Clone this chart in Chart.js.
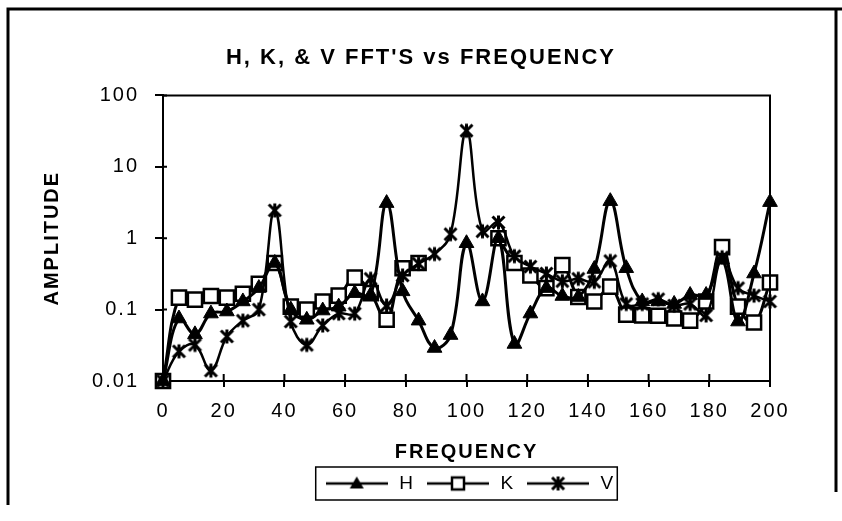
<!DOCTYPE html>
<html>
<head>
<meta charset="utf-8">
<script src="https://cdn.jsdelivr.net/npm/chart.js@4.4.1/dist/chart.umd.min.js"></script>
<style>
  html, body { margin: 0; padding: 0; background: #fff; }
  canvas { display: block; }
</style>
</head>
<body>
<canvas id="fftChart" width="842" height="521"></canvas>
<script>
// --- Data ---
const freqHz = [0, 5.26, 10.53, 15.79, 21.05, 26.32, 31.58, 36.84, 42.11, 47.37,
  52.63, 57.89, 63.16, 68.42, 73.68, 78.95, 84.21, 89.47, 94.74, 100,
  105.26, 110.53, 115.79, 121.05, 126.32, 131.58, 136.84, 142.11, 147.37, 152.63,
  157.89, 163.16, 168.42, 173.68, 178.95, 184.21, 189.47, 194.74, 200];

const hAmp = [0.01, 0.075, 0.045, 0.088, 0.094, 0.13, 0.2, 0.45, 0.1, 0.072,
  0.097, 0.11, 0.17, 0.16, 3.1, 0.18, 0.07, 0.029, 0.044, 0.85,
  0.13, 1.0, 0.033, 0.088, 0.2, 0.155, 0.15, 0.37, 3.3, 0.38,
  0.13, 0.13, 0.12, 0.16, 0.16, 0.5, 0.068, 0.32, 3.2];

const kAmp = [0.01, 0.147, 0.138, 0.155, 0.147, 0.167, 0.23, 0.45, 0.11, 0.1,
  0.13, 0.157, 0.28, 0.17, 0.072, 0.38, 0.45, null, null, null,
  null, 1.0, 0.45, 0.3, 0.2, 0.42, 0.15, 0.13, 0.21, 0.085,
  0.083, 0.082, 0.075, 0.07, 0.13, 0.75, 0.11, 0.066, 0.24];

const vAmp = [0.01, 0.026, 0.032, 0.014, 0.042, 0.07, 0.1, 2.45, 0.068, 0.032,
  0.06, 0.088, 0.088, 0.27, 0.114, 0.3, 0.44, 0.6, 1.14, 32,
  1.25, 1.66, 0.56, 0.4, 0.32, 0.25, 0.27, 0.245, 0.48, 0.12,
  0.12, 0.14, 0.114, 0.12, 0.083, 0.54, 0.2, 0.157, 0.13];

const seriesNames = ['H', 'K', 'V'];
const yTickValues = [0.01, 0.1, 1, 10, 100];
const yTickLabels = ['0.01', '0.1', '1', '10', '100'];

const FONT = "'Liberation Sans', Arial, Helvetica, sans-serif";
Chart.defaults.font.family = FONT;
Chart.defaults.color = '#000';

function toPoints(values) {
    return values.map((v, i) => ({ x: freqHz[i], y: v }));
}

// --- Marker drawing helpers (used for V points and legend samples) ---
function drawMarker(c, kind, cx, cy) {
    c.lineWidth = 2.5;
    c.strokeStyle = '#000';
    if (kind === 'triangle') {
        c.fillStyle = '#000';
        c.beginPath();
        c.moveTo(cx, cy - 7);
        c.lineTo(cx + 7, cy + 5);
        c.lineTo(cx - 7, cy + 5);
        c.closePath();
        c.fill();
    } else if (kind === 'square') {
        c.fillStyle = '#fff';
        c.fillRect(cx - 6, cy - 6, 12, 12);
        c.strokeRect(cx - 6, cy - 6, 12, 12);
    } else {
        c.lineWidth = 3;
        c.beginPath();
        c.moveTo(cx - 6, cy - 6); c.lineTo(cx + 6, cy + 6);
        c.moveTo(cx + 6, cy - 6); c.lineTo(cx - 6, cy + 6);
        c.moveTo(cx, cy - 7); c.lineTo(cx, cy + 7);
        c.stroke();
    }
}

function makeAsterisk() {
    const cv = document.createElement('canvas');
    cv.width = 17; cv.height = 17;
    drawMarker(cv.getContext('2d'), 'asterisk', 8.5, 8.5);
    return cv;
}

function makeLegendSample(kind) {
    const cv = document.createElement('canvas');
    cv.width = 62; cv.height = 20;
    const c = cv.getContext('2d');
    c.strokeStyle = '#000';
    c.lineWidth = 2.5;
    c.beginPath();
    c.moveTo(0, 10); c.lineTo(62, 10);
    c.stroke();
    drawMarker(c, kind, 31, 10);
    return cv;
}

const asteriskMark = makeAsterisk();
const legendSamples = [makeLegendSample('triangle'), makeLegendSample('square'), makeLegendSample('asterisk')];

// --- Plugin: outer frame, plot border, inner tick halves, legend box ---
const decorPlugin = {
    id: 'decor',
    beforeDraw(chart) {
        chart.ctx.letterSpacing = '2px';
    },
    afterDraw(chart) {
        const c = chart.ctx;
        const area = chart.chartArea;
        c.save();
        c.strokeStyle = '#000';

        // outer frame
        c.lineWidth = 3;
        c.beginPath();
        c.moveTo(8, 505); c.lineTo(8, 9); c.lineTo(842, 9);
        c.moveTo(836, 9); c.lineTo(836, 492);
        c.stroke();

        // plot border (top and right)
        c.lineWidth = 2;
        c.beginPath();
        c.moveTo(area.left, area.top); c.lineTo(area.right, area.top); c.lineTo(area.right, area.bottom);
        c.stroke();

        // inner halves of tick marks
        const xs = chart.scales.x, ys = chart.scales.y;
        c.beginPath();
        xs.ticks.forEach(t => {
            const px = xs.getPixelForValue(t.value);
            c.moveTo(px, area.bottom); c.lineTo(px, area.bottom - 7);
        });
        ys.ticks.forEach(t => {
            const py = ys.getPixelForValue(t.value);
            c.moveTo(area.left, py); c.lineTo(area.left + 4, py);
        });
        c.stroke();

        // legend box
        const hb = chart.legend.legendHitBoxes;
        if (hb && hb.length) {
            const left = Math.min(...hb.map(b => b.left)) - 8;
            const right = Math.max(...hb.map(b => b.left + b.width)) + 8;
            const top = hb[0].top - 7;
            const bottom = hb[0].top + hb[0].height + 7;
            c.lineWidth = 1.5;
            c.strokeRect(left, top, right - left, bottom - top);
        }
        c.restore();
    }
};

const common = {
    borderColor: '#000',
    borderWidth: 3,
    pointBorderColor: '#000',
    tension: 0.4,
    clip: false,
    spanGaps: false
};

const canvas = document.getElementById('fftChart');
new Chart(canvas, {
    type: 'line',
    data: {
        datasets: [
            Object.assign({}, common, {
                label: seriesNames[0], data: toPoints(hAmp), order: 1,
                pointStyle: 'triangle', pointRadius: 8.5, pointBackgroundColor: '#000', pointBorderWidth: 1
            }),
            Object.assign({}, common, {
                label: seriesNames[1], data: toPoints(kAmp), order: 2,
                pointStyle: 'rect', pointRadius: 10, pointBackgroundColor: '#fff', pointBorderWidth: 2.5
            }),
            Object.assign({}, common, {
                label: seriesNames[2], data: toPoints(vAmp), order: 0, borderWidth: 2.5,
                pointStyle: asteriskMark, pointRadius: 8
            })
        ]
    },
    options: {
        responsive: false,
        animation: false,
        events: [],
        layout: { padding: { left: 0, right: 0, top: 0, bottom: 18 } },
        scales: {
            x: {
                type: 'linear', min: 0, max: 200,
                ticks: { stepSize: 20, padding: 12, font: { size: 20 }, color: '#000' },
                grid: { drawOnChartArea: false, color: '#000', lineWidth: 2, tickLength: 6 },
                border: { color: '#000', width: 2 },
                title: { display: true, text: 'FREQUENCY', font: { size: 20, weight: 'bold' }, padding: { top: 4, bottom: 0 } },
                afterFit: s => { s.height = 83; }
            },
            y: {
                type: 'logarithmic', min: 0.01, max: 100,
                afterBuildTicks: s => { s.ticks = yTickValues.map(v => ({ value: v })); },
                ticks: { callback: (v, i) => yTickLabels[i], padding: 16, font: { size: 20 }, color: '#000' },
                grid: { drawOnChartArea: false, color: '#000', lineWidth: 2, tickLength: 8 },
                border: { color: '#000', width: 2 },
                title: { display: true, text: 'AMPLITUDE', font: { size: 20, weight: 'bold' }, padding: { top: 40, bottom: 0 } },
                afterFit: s => { s.width = 163; }
            },
            y2: {
                type: 'linear', position: 'right', display: true,
                grid: { display: false }, ticks: { display: false }, border: { display: false },
                afterFit: s => { s.width = 72; }
            }
        },
        plugins: {
            title: {
                display: true,
                text: "H, K, & V FFT'S vs FREQUENCY",
                font: { size: 22, weight: 'bold' },
                color: '#000',
                padding: { top: 45, bottom: 24 }
            },
            legend: {
                position: 'bottom',
                fullSize: false,
                labels: {
                    usePointStyle: true,
                    pointStyleWidth: 66,
                    padding: 10,
                    color: '#000',
                    font: { size: 19 },
                    generateLabels: () => seriesNames.map((name, i) => ({
                        text: name, pointStyle: legendSamples[i], datasetIndex: i,
                        fillStyle: '#000', strokeStyle: '#000', lineWidth: 0, hidden: false
                    }))
                }
            },
            tooltip: { enabled: false }
        }
    },
    plugins: [decorPlugin]
});
</script>
</body>
</html>
